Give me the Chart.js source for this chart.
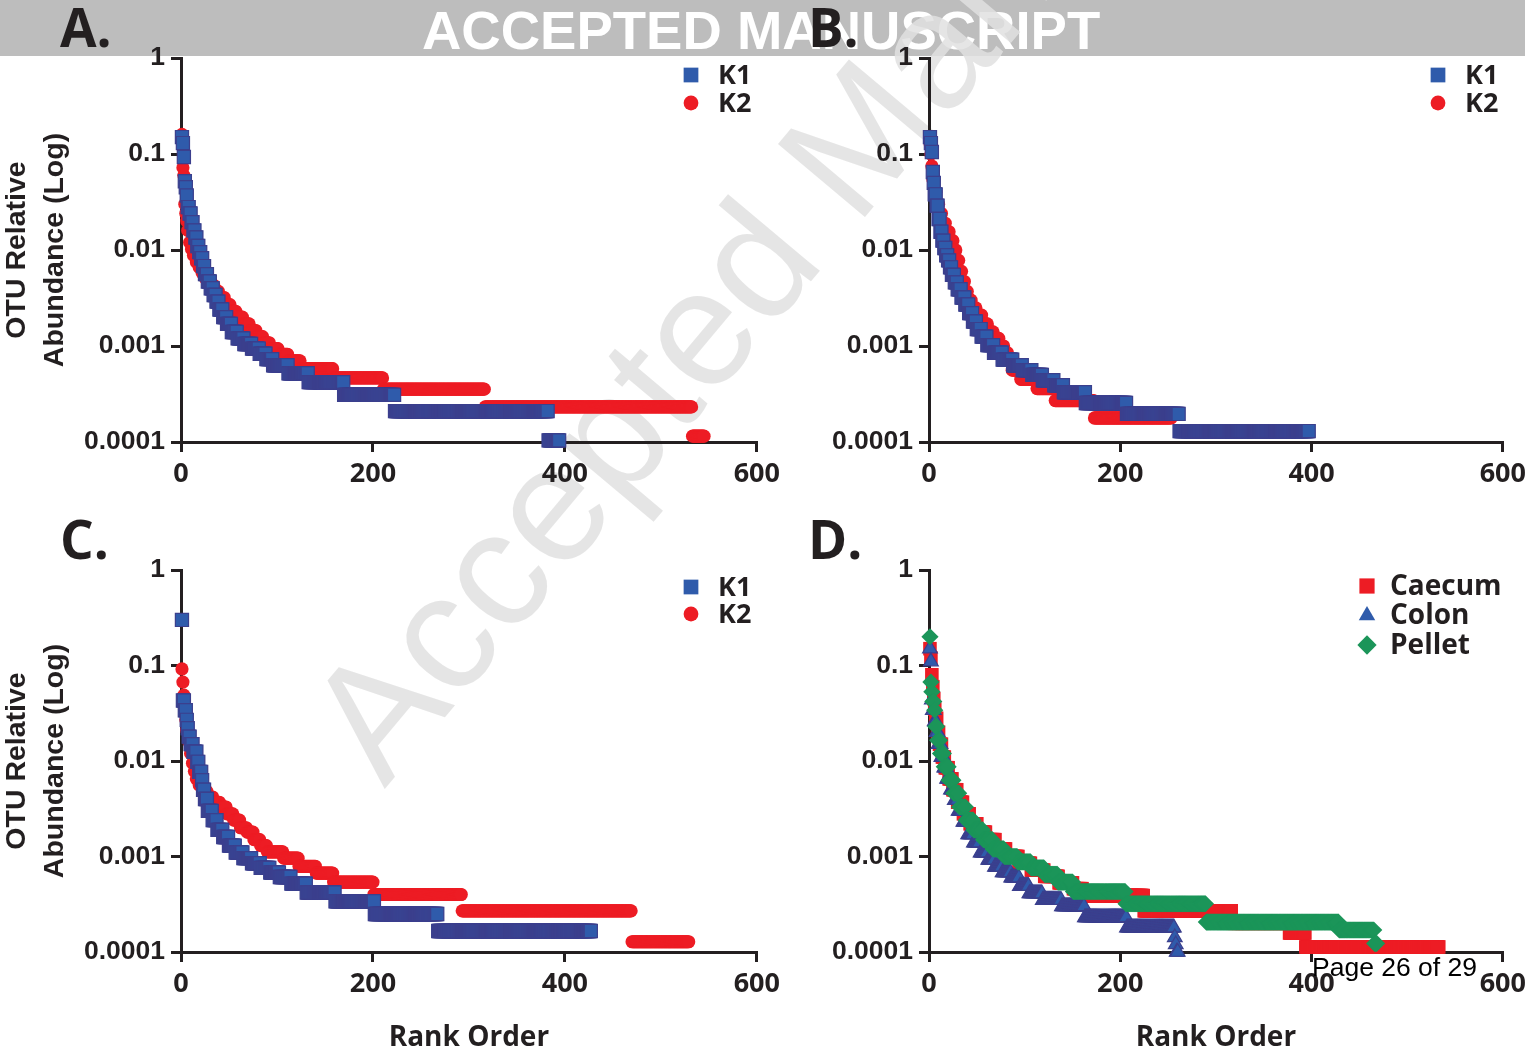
<!DOCTYPE html>
<html>
<head>
<meta charset="utf-8">
<script src="https://cdn.jsdelivr.net/npm/chart.js@4.4.1/dist/chart.umd.min.js"></script>
<style>
  html, body { margin: 0; padding: 0; background: #fff; }
  #page { position: relative; width: 1525px; height: 1055px; overflow: hidden; background: #fff; }
  #band { position: absolute; left: 0; top: 0; width: 1525px; height: 56px; background: #bdbdbd; }
  #bandText { position: absolute; left: 422px; top: 4px; font: bold 54.5px "Liberation Sans", Arial, sans-serif; line-height: 1; color: #fff; white-space: nowrap; }
  #watermark { position: absolute; left: 278px; top: 700px; transform-origin: 0 0; transform: rotate(-50deg);
    font: 165px "Liberation Sans", Arial, sans-serif; line-height: 1; color: rgba(225, 225, 225, 0.85); white-space: nowrap; }
  canvas { position: absolute; }
  .letter { position: absolute; font: 700 53px "Open Sans", sans-serif; line-height: 1; color: #231f20; }
  #pageNo { position: absolute; left: 1312px; top: 954px; font: 26.5px "Liberation Sans", Arial, sans-serif; line-height: 1; color: #000; white-space: nowrap; }
</style>
</head>
<body>
<div id="page">
  <div id="band"></div>
  <div id="bandText">ACCEPTED MANUSCRIPT</div>
  <div id="watermark">Accepted Manuscript</div>
  <canvas id="chartA" width="786" height="490" style="left:0;top:30px"></canvas>
  <canvas id="chartB" width="772" height="490" style="left:760px;top:30px"></canvas>
  <canvas id="chartC" width="786" height="513" style="left:0;top:542px"></canvas>
  <canvas id="chartD" width="772" height="513" style="left:760px;top:542px"></canvas>
  <div class="letter" style="left:60px;top:0">A.</div>
  <div class="letter" style="left:808px;top:0">B.</div>
  <div class="letter" style="left:60px;top:512px">C.</div>
  <div class="letter" style="left:808px;top:512px">D.</div>
  <div id="pageNo">Page 26 of 29</div>
</div>
<script>
// axis ticks
const rankTicks = [0, 200, 400, 600];
const abundanceTicks = [0.0001, 0.001, 0.01, 0.1, 1];
const abundanceLabels = ['0.0001', '0.001', '0.01', '0.1', '1'];

// each entry: [first rank, last rank, relative abundance]
const aK1 = [[1,1,0.15],[2,2,0.13],[3,3,0.093],[4,4,0.052],[5,5,0.045],[6,6,0.037],[7,8,0.028],[9,10,0.024],[11,12,0.0195],[13,14,0.016],[15,16,0.0135],[17,18,0.011],[19,20,0.0095],[21,22,0.0082],[23,24,0.0068],[25,27,0.0056],[28,30,0.0047],[31,33,0.004],[34,36,0.0034],[37,39,0.0029],[40,43,0.0024],[44,47,0.002],[48,52,0.0017],[53,58,0.0014],[59,65,0.0012],[66,73,0.00105],[74,81,0.00094],[82,88,0.00083],[89,95,0.00073],[96,111,0.00063],[112,132,0.00052],[133,169,0.00042],[170,222,0.00031],[223,382,0.00021],[383,394,0.000104]];
const aK2 = [[1,1,0.16],[2,2,0.072],[3,3,0.06],[4,4,0.03],[5,5,0.024],[6,6,0.02],[7,8,0.016],[9,10,0.012],[11,12,0.0102],[13,15,0.0088],[16,18,0.0075],[19,21,0.0066],[22,25,0.0058],[26,29,0.005],[30,34,0.0043],[35,39,0.0037],[40,45,0.0032],[46,51,0.0027],[52,57,0.0023],[58,64,0.002],[65,71,0.0017],[72,78,0.00145],[79,85,0.00125],[86,92,0.00108],[93,101,0.00094],[102,111,0.00082],[112,124,0.0007],[125,158,0.00058],[159,210,0.000465],[211,316,0.000355],[317,532,0.000232],[533,545,0.000115]];

const bK1 = [[1,1,0.15],[2,2,0.13],[3,3,0.105],[4,4,0.065],[5,5,0.05],[6,7,0.038],[8,9,0.029],[10,11,0.021],[12,13,0.0155],[14,15,0.0125],[16,17,0.0105],[18,19,0.0088],[20,21,0.0078],[22,23,0.0066],[24,26,0.0055],[27,29,0.0046],[30,33,0.0039],[34,37,0.0032],[38,41,0.0027],[42,45,0.0022],[46,49,0.0018],[50,54,0.0015],[55,60,0.00125],[61,67,0.00102],[68,76,0.00085],[77,87,0.00072],[88,97,0.00063],[98,107,0.00056],[108,118,0.0005],[119,130,0.00044],[131,140,0.00039],[141,163,0.00033],[164,206,0.000255],[207,261,0.000196],[262,397,0.00013]];
const bK2 = [[1,1,0.13],[2,2,0.1],[3,3,0.075],[4,5,0.055],[6,7,0.04],[8,10,0.03],[11,13,0.024],[14,17,0.019],[18,21,0.0155],[22,25,0.0125],[26,28,0.01],[29,31,0.0078],[32,34,0.006],[35,37,0.0047],[38,40,0.0037],[41,44,0.003],[45,49,0.0025],[50,55,0.0021],[56,61,0.0017],[62,67,0.0014],[68,73,0.0012],[74,78,0.001],[79,82,0.00085],[83,86,0.0007],[87,95,0.00056],[96,112,0.00045],[113,131,0.00036],[132,172,0.00027],[173,253,0.000178]];

const cK1 = [[1,1,0.3],[2,3,0.043],[4,5,0.034],[6,6,0.027],[7,7,0.022],[8,9,0.018],[10,12,0.015],[13,16,0.0125],[17,18,0.0098],[19,21,0.0077],[22,22,0.0063],[23,24,0.005],[25,27,0.004],[28,32,0.003],[33,37,0.0024],[38,43,0.0019],[44,49,0.0016],[50,56,0.0013],[57,64,0.0011],[65,73,0.00096],[74,82,0.00085],[83,92,0.00076],[93,102,0.00068],[103,114,0.00061],[115,130,0.00052],[131,160,0.00042],[161,201,0.00034],[202,267,0.00025],[268,427,0.000166]];
const cK2 = [[1,1,0.092],[2,2,0.067],[3,3,0.049],[4,4,0.035],[5,5,0.027],[6,7,0.021],[8,9,0.016],[10,11,0.012],[12,13,0.0095],[14,15,0.0078],[16,18,0.0065],[19,22,0.0056],[23,27,0.0048],[28,33,0.0042],[34,40,0.0037],[41,47,0.0033],[48,54,0.0028],[55,61,0.0024],[62,68,0.002],[69,75,0.0018],[76,82,0.0015],[83,89,0.0013],[90,106,0.00112],[107,122,0.00096],[123,140,0.00079],[141,158,0.00067],[159,200,0.00054],[201,292,0.0004],[293,469,0.00027],[470,529,0.000128]];

const dCaecum = [[1,1,0.15],[2,2,0.12],[3,3,0.08],[4,4,0.06],[5,5,0.045],[6,6,0.035],[7,8,0.028],[9,10,0.02],[11,13,0.015],[14,16,0.011],[17,20,0.0085],[21,24,0.0065],[25,29,0.005],[30,35,0.0037],[36,42,0.0028],[43,50,0.0022],[51,59,0.0018],[60,69,0.0015],[70,80,0.0012],[81,93,0.001],[94,106,0.00085],[107,120,0.00072],[121,135,0.00062],[136,150,0.00053],[151,160,0.00046],[161,224,0.00039],[225,316,0.00027],[317,376,0.0002],[377,393,0.000158],[394,533,0.000113]];
const dColon = [[1,1,0.15],[2,2,0.11],[3,3,0.044],[4,5,0.034],[6,7,0.026],[8,9,0.02],[10,12,0.015],[13,15,0.011],[16,18,0.0085],[19,22,0.0065],[23,26,0.005],[27,30,0.0039],[31,35,0.003],[36,40,0.0023],[41,46,0.0017],[47,53,0.0014],[54,61,0.0011],[62,68,0.00092],[69,76,0.00078],[77,85,0.00068],[86,94,0.0006],[95,104,0.00049],[105,118,0.00041],[119,138,0.00035],[139,162,0.0003],[163,206,0.00023],[207,256,0.00018],[257,257,0.000142],[258,258,0.00012],[259,260,0.0001]];
const dPellet = [[1,1,0.2],[2,2,0.067],[3,3,0.053],[4,5,0.042],[6,6,0.034],[7,8,0.023],[9,11,0.0165],[12,15,0.012],[16,20,0.0087],[21,25,0.0063],[26,31,0.0046],[32,38,0.0033],[39,46,0.0024],[47,56,0.0019],[57,66,0.0015],[67,78,0.0012],[79,92,0.001],[93,106,0.00088],[107,120,0.00076],[121,134,0.00065],[135,150,0.00054],[151,205,0.00043],[206,289,0.00032],[290,428,0.000206],[429,465,0.00017],[466,468,0.000123]];

const INK = '#231f20';

const blueSquare = { pointStyle: 'rect', pointRadius: 9.3, pointBackgroundColor: '#2f5bab', pointBorderColor: '#3b3f8d', pointBorderWidth: 1.2 };
const redCircle = { pointStyle: 'circle', pointRadius: 6.6, pointBackgroundColor: '#ed1c24', pointBorderColor: '#ed1c24', pointBorderWidth: 0 };
const redSquare = { pointStyle: 'rect', pointRadius: 9.6, pointBackgroundColor: '#ed1c24', pointBorderColor: '#ed1c24', pointBorderWidth: 0 };
const blueTriangle = { pointStyle: 'triangle', pointRadius: 8.5, pointBackgroundColor: '#2f5bab', pointBorderColor: '#3b3f8d', pointBorderWidth: 1.2 };
const greenDiamond = { pointStyle: 'rectRot', pointRadius: 8.6, pointBackgroundColor: '#1b9559', pointBorderColor: '#1b9559', pointBorderWidth: 0 };

function expand(runs) {
    const pts = [];
    runs.forEach(([first, last, v]) => {
        for (let r = first; r <= last; r++) pts.push({ x: r, y: v });
    });
    return pts;
}

function series(label, runs, style, order) {
    return Object.assign({ label: label, data: expand(runs), showLine: false, clip: false, order: order || 0 }, style);
}

function drawMarker(ctx, style, x, y, r, fill) {
    ctx.beginPath();
    if (style === 'rect') {
        const s = r * Math.SQRT1_2;
        ctx.rect(x - s, y - s, 2 * s, 2 * s);
    } else if (style === 'circle') {
        ctx.arc(x, y, r, 0, Math.PI * 2);
    } else if (style === 'triangle') {
        ctx.moveTo(x, y - r);
        ctx.lineTo(x + r * 0.866, y + r * 0.5);
        ctx.lineTo(x - r * 0.866, y + r * 0.5);
        ctx.closePath();
    } else if (style === 'rectRot') {
        ctx.moveTo(x, y - r);
        ctx.lineTo(x + r, y);
        ctx.lineTo(x, y + r);
        ctx.lineTo(x - r, y);
        ctx.closePath();
    }
    ctx.fillStyle = fill;
    ctx.fill();
}

// legend drawn inside the plot, top right
const innerLegend = {
    id: 'innerLegend',
    afterDraw(chart, args, opts) {
        const ctx = chart.ctx;
        ctx.save();
        chart.data.datasets.forEach((ds, i) => {
            const x = opts.x, y = opts.y + i * opts.gap;
            drawMarker(ctx, ds.pointStyle, x, y, ds.pointRadius * 1.12, ds.pointBackgroundColor);
            ctx.fillStyle = INK;
            ctx.font = opts.font;
            ctx.textBaseline = 'middle';
            ctx.textAlign = 'left';
            ctx.fillText(ds.label, x + opts.textGap, y + 1);
        });
        ctx.restore();
    }
};

function buildChart(id, p) {
    const ctx = document.getElementById(id).getContext('2d');
    return new Chart(ctx, {
        type: 'scatter',
        data: { datasets: p.datasets },
        options: {
            responsive: false,
            animation: false,
            events: [],
            layout: { padding: { top: 28, right: p.right, left: 0, bottom: 0 } },
            plugins: {
                legend: { display: false },
                tooltip: { enabled: false },
                innerLegend: p.legend
            },
            scales: {
                x: {
                    type: 'linear',
                    min: 0,
                    max: 600,
                    afterBuildTicks: s => { s.ticks = rankTicks.map(v => ({ value: v })); },
                    afterFit: s => { s.height = p.xHeight; },
                    ticks: { color: INK, padding: 6, maxRotation: 0, autoSkip: false,
                        font: { family: '"Open Sans", sans-serif', weight: '700', size: 27 } },
                    grid: { drawOnChartArea: false, drawTicks: true, tickLength: 10, tickWidth: 3, tickColor: INK, color: INK, lineWidth: 3 },
                    border: { display: true, color: INK, width: 3 },
                    title: {
                        display: p.xTitle,
                        text: 'Rank Order',
                        color: INK,
                        font: { family: '"Open Sans", sans-serif', weight: '700', size: 28, lineHeight: 1.2 },
                        padding: { top: 0, bottom: 0 }
                    }
                },
                y: {
                    type: 'logarithmic',
                    min: 0.0001,
                    max: 1,
                    afterBuildTicks: s => { s.ticks = abundanceTicks.map(v => ({ value: v })); },
                    afterFit: s => { s.width = p.yWidth; },
                    ticks: { color: INK, padding: 6, autoSkip: false,
                        font: { family: '"Liberation Sans", Arial, sans-serif', weight: 'bold', size: 26.5 },
                        callback: (v, i) => abundanceLabels[i] },
                    grid: { drawOnChartArea: false, drawTicks: true, tickLength: 10, tickWidth: 3, tickColor: INK, color: INK, lineWidth: 3 },
                    border: { display: true, color: INK, width: 3 },
                    title: {
                        display: p.yTitle,
                        text: ['OTU Relative', 'Abundance (Log)'],
                        color: INK,
                        font: { family: '"Liberation Sans", Arial, sans-serif', weight: 'bold', size: 28.5, lineHeight: 1.33 },
                        padding: { top: -2, bottom: 0 }
                    }
                }
            }
        },
        plugins: [innerLegend]
    });
}

const kLegendFont = '700 27px "Open Sans", sans-serif';

buildChart('chartA', {
    datasets: [series('K1', aK1, blueSquare), series('K2', aK2, redCircle)],
    right: 24, yWidth: 181, xHeight: 78, xTitle: false, yTitle: true,
    legend: { x: 691, y: 45, gap: 28, textGap: 27, font: kLegendFont }
});

buildChart('chartB', {
    datasets: [series('K1', bK1, blueSquare), series('K2', bK2, redCircle)],
    right: 22, yWidth: 169, xHeight: 78, xTitle: false, yTitle: false,
    legend: { x: 678, y: 45, gap: 28, textGap: 27, font: kLegendFont }
});

buildChart('chartC', {
    datasets: [series('K1', cK1, blueSquare), series('K2', cK2, redCircle)],
    right: 24, yWidth: 181, xHeight: 103, xTitle: true, yTitle: true,
    legend: { x: 691, y: 45, gap: 27, textGap: 27, font: kLegendFont }
});

buildChart('chartD', {
    datasets: [
        series('Caecum', dCaecum, redSquare, 3),
        series('Colon', dColon, blueTriangle, 2),
        series('Pellet', dPellet, greenDiamond, 1)
    ],
    right: 22, yWidth: 169, xHeight: 103, xTitle: true, yTitle: false,
    legend: { x: 607, y: 44, gap: 29.5, textGap: 23, font: '700 28px "Open Sans", sans-serif' }
});
</script>
</body>
</html>
